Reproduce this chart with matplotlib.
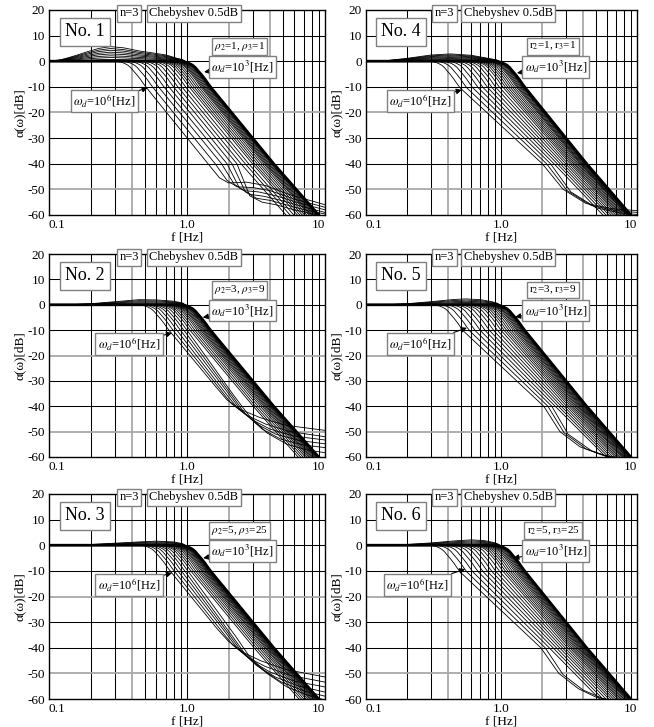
import matplotlib
matplotlib.use('Agg')
import matplotlib.pyplot as plt

plt.rcParams['font.family'] = ['Liberation Serif', 'DejaVu Serif']
plt.rcParams['mathtext.fontset'] = 'stix'
plt.rcParams['axes.unicode_minus'] = False

# knee shape of the w_d=10^3 curve (freq relative to knee, dB)
KNEE_REL = [0.85, 0.93, 1.0, 1.05, 1.1, 1.15, 1.2, 1.27, 1.35, 1.42, 1.5]
KNEE_DB = [0.0, -0.1, -0.5, -1.0, -1.6, -2.5, -3.7, -5.2, -7.0, -8.7, -10.4]

# ---- No. 1  rho2=1, rho3=1
knee_p1 = [0.34, 0.38, 0.42, 0.46, 0.50, 0.54, 0.58, 0.62, 0.66, 0.70, 0.73, 0.76,
           0.79, 0.82, 0.85, 0.87, 0.89, 0.91, 0.93, 0.95, 0.965, 0.978, 0.99, 1.0]
f40_p1 = [1.42, 1.60, 1.78, 1.95, 2.12, 2.30, 2.46, 2.64, 2.80, 2.98, 3.10, 3.23,
          3.36, 3.49, 3.61, 3.70, 3.78, 3.87, 3.95, 4.04, 4.10, 4.16, 4.21, 4.25]
f60_p1 = [3.06, 3.42, 3.78, 4.14, 4.50, 4.86, 5.22, 5.58, 5.94, 6.30, 6.57, 6.84,
          7.11, 7.38, 7.65, 7.83, 8.01, 8.19, 8.37, 8.55, 8.69, 8.80, 8.91, 9.0]
tails_p1 = [
    [(1.42, -40), (1.72, -45.5), (2.0, -47.5), (2.7, -47.2), (3.7, -48.5), (5.5, -52.0), (10, -56.0)],
    [(1.60, -40), (1.95, -46.5), (2.3, -49.0), (3.0, -49.3), (4.0, -50.5), (6.0, -53.8), (10, -57.0)],
    [(1.78, -40), (2.2, -48.0), (2.6, -50.5), (3.3, -51.0), (4.4, -52.5), (6.5, -55.3), (10, -58.0)],
    [(1.95, -40), (2.4, -49.5), (2.9, -52.0), (3.6, -52.7), (4.8, -54.3), (7.0, -56.8), (10, -59.0)],
    [(2.12, -40), (2.65, -51.0), (3.2, -53.5), (4.0, -54.3), (5.2, -56.0), (7.5, -58.3), (10, -59.6)],
    [(2.30, -40), (2.85, -52.5), (3.5, -55.0), (4.4, -56.0), (5.8, -57.8), (8.0, -59.5), (10, -60.5)],
]
hump_f_p1 = [0.1, 0.12, 0.135, 0.16, 0.19, 0.23, 0.28, 0.35, 0.45, 0.57, 0.71, 0.85, 0.93]
hump_db_p1 = [0.0, 0.5, 1.2, 2.4, 3.7, 5.0, 5.7, 5.2, 4.0, 3.2, 2.4, 1.1, 0.6]
hump_frac_p1 = [0.12, 0.25, 0.37, 0.5, 0.62, 0.75, 0.87, 1.0]

# ---- No. 2  rho2=3, rho3=9
knee_p2 = [0.50, 0.535, 0.57, 0.605, 0.64, 0.675, 0.71, 0.74, 0.77, 0.80, 0.825,
           0.85, 0.87, 0.89, 0.91, 0.93, 0.945, 0.96, 0.972, 0.983, 0.992, 1.0]
f40_p2 = [2.12, 2.27, 2.42, 2.57, 2.72, 2.87, 3.02, 3.14, 3.27, 3.40, 3.51,
          3.61, 3.70, 3.78, 3.87, 3.95, 4.02, 4.08, 4.13, 4.18, 4.22, 4.25]
f60_p2 = [4.50, 4.82, 5.13, 5.45, 5.76, 6.08, 6.39, 6.66, 6.93, 7.20, 7.43,
          7.65, 7.83, 8.01, 8.19, 8.37, 8.51, 8.64, 8.75, 8.85, 8.93, 9.0]
tails_p2 = [
    [(1.6, -32.0), (1.95, -37.5), (2.5, -41.5), (3.4, -44.5), (5.2, -47.5), (10, -49.5)],
    [(1.75, -33.5), (2.1, -39.0), (2.7, -43.5), (3.7, -47.0), (5.6, -50.0), (10, -52.0)],
    [(1.85, -34.0), (2.3, -40.5), (3.0, -45.5), (4.0, -49.0), (6.0, -51.8), (10, -53.3)],
    [(2.0, -35.0), (2.45, -41.5), (3.2, -47.0), (4.4, -51.0), (6.5, -53.5), (10, -54.8)],
    [(2.1, -35.5), (2.6, -42.5), (3.5, -49.0), (4.8, -53.0), (7.0, -55.3), (10, -56.3)],
    [(2.2, -36.0), (2.8, -43.5), (3.8, -50.5), (5.3, -55.0), (7.5, -57.3), (10, -58.3)],
]
hump_f_p2 = [0.1, 0.15, 0.2, 0.3, 0.45, 0.6, 0.8, 0.93]
hump_db_p2 = [0.0, 0.1, 0.4, 1.2, 2.0, 1.9, 1.4, 0.7]
hump_frac_p2 = [0.2, 0.4, 0.6, 0.8, 1.0]

# ---- No. 3  rho2=5, rho3=25
knee_p3 = [0.51, 0.545, 0.58, 0.615, 0.65, 0.685, 0.72, 0.75, 0.78, 0.81, 0.835,
           0.86, 0.88, 0.90, 0.92, 0.935, 0.95, 0.963, 0.975, 0.985, 0.993, 1.0]
f40_p3 = [2.17, 2.32, 2.47, 2.61, 2.76, 2.91, 3.06, 3.19, 3.32, 3.44, 3.55,
          3.66, 3.74, 3.83, 3.91, 3.97, 4.04, 4.09, 4.14, 4.19, 4.22, 4.25]
f60_p3 = [4.59, 4.91, 5.22, 5.54, 5.85, 6.17, 6.48, 6.75, 7.02, 7.29, 7.52,
          7.74, 7.92, 8.10, 8.28, 8.42, 8.55, 8.67, 8.78, 8.87, 8.94, 9.0]
tails_p3 = [
    [(1.65, -32.5), (2.0, -37.5), (2.6, -42.0), (3.4, -45.0), (5.2, -48.5), (10, -51.4)],
    [(1.75, -33.0), (2.15, -39.0), (2.8, -44.0), (3.7, -47.3), (5.6, -50.8), (10, -53.4)],
    [(1.9, -34.0), (2.3, -40.0), (3.0, -45.5), (4.0, -49.5), (6.0, -53.0), (10, -55.3)],
    [(2.0, -34.5), (2.45, -41.0), (3.2, -47.0), (4.4, -51.5), (6.5, -55.0), (10, -57.3)],
    [(2.1, -35.0), (2.6, -42.0), (3.5, -48.5), (4.8, -53.3), (7.0, -56.8), (10, -58.9)],
    [(2.25, -35.5), (2.8, -43.0), (3.8, -50.0), (5.3, -55.3), (7.5, -58.5), (10, -60.4)],
]
hump_f_p3 = [0.1, 0.15, 0.2, 0.3, 0.45, 0.6, 0.8, 0.93]
hump_db_p3 = [0.0, 0.05, 0.3, 0.8, 1.3, 1.6, 1.3, 0.6]
hump_frac_p3 = [0.2, 0.4, 0.6, 0.8, 1.0]

# ---- No. 4  r2=1, r3=1
knee_p4 = [0.33, 0.37, 0.41, 0.45, 0.49, 0.53, 0.57, 0.61, 0.65, 0.69, 0.72, 0.75,
           0.78, 0.81, 0.84, 0.87, 0.89, 0.91, 0.93, 0.95, 0.965, 0.978, 0.99, 1.0]
f40_p4 = [2.00, 2.15, 2.30, 2.44, 2.58, 2.71, 2.84, 2.97, 3.09, 3.21, 3.31, 3.41,
          3.50, 3.60, 3.69, 3.78, 3.85, 3.91, 3.98, 4.05, 4.10, 4.15, 4.21, 4.25]
f60_p4 = [4.6, 4.95, 5.3, 5.6, 5.9, 6.2, 6.45, 6.7, 6.95, 7.2, 7.4, 7.6,
          7.8, 8.0, 8.2, 8.4, 8.5, 8.6, 8.7, 8.8, 8.87, 8.93, 8.98, 9.0]
tails_p4 = [
    [(2.00, -40), (2.85, -50.0), (4.2, -55.5), (6.5, -57.5), (10, -58.3)],
    [(2.15, -40), (3.05, -50.5), (4.6, -56.3), (7.0, -58.3), (10, -59.0)],
    [(2.30, -40), (3.25, -51.0), (5.0, -57.2), (7.5, -59.2), (10, -59.8)],
]
hump_f_p4 = [0.1, 0.14, 0.2, 0.3, 0.42, 0.6, 0.8, 0.92]
hump_db_p4 = [0.0, 0.2, 1.1, 2.4, 2.85, 2.3, 1.1, 0.5]
hump_frac_p4 = [0.12, 0.25, 0.37, 0.5, 0.62, 0.75, 0.87, 1.0]

# ---- No. 5  r2=3, r3=9
knee_p5 = [0.35, 0.39, 0.43, 0.47, 0.51, 0.55, 0.59, 0.63, 0.67, 0.705, 0.735, 0.765,
           0.795, 0.825, 0.85, 0.875, 0.895, 0.915, 0.935, 0.952, 0.967, 0.98, 0.991, 1.0]
f40_p5 = [2.05, 2.2, 2.35, 2.49, 2.63, 2.76, 2.89, 3.02, 3.14, 3.25, 3.35, 3.45,
          3.54, 3.63, 3.71, 3.79, 3.86, 3.93, 4.0, 4.06, 4.12, 4.17, 4.22, 4.25]
f60_p5 = [5.0, 5.3, 5.6, 5.9, 6.15, 6.4, 6.65, 6.9, 7.1, 7.3, 7.5, 7.7,
          7.85, 8.0, 8.15, 8.3, 8.42, 8.54, 8.65, 8.75, 8.84, 8.91, 8.96, 9.0]
tails_p5 = [
    [(2.05, -40), (2.7, -50.0), (3.8, -56.0), (5.5, -59.2), (8.0, -60.5)],
    [(2.2, -40), (2.9, -50.5), (4.2, -56.8), (6.0, -59.8), (8.0, -61.0)],
    [(2.35, -40), (3.1, -51.0), (4.6, -57.5), (6.5, -60.3)],
]
hump_f_p5 = [0.1, 0.15, 0.2, 0.3, 0.45, 0.55, 0.7, 0.85, 0.93]
hump_db_p5 = [0.0, 0.1, 0.4, 1.2, 2.1, 2.3, 2.0, 1.2, 0.6]
hump_frac_p5 = [0.2, 0.4, 0.6, 0.8, 1.0]

# ---- No. 6  r2=5, r3=25
knee_p6 = [0.33, 0.37, 0.41, 0.45, 0.49, 0.53, 0.57, 0.61, 0.65, 0.69, 0.72, 0.75,
           0.78, 0.81, 0.84, 0.865, 0.888, 0.91, 0.93, 0.948, 0.964, 0.978, 0.99, 1.0]
f40_p6 = [1.95, 2.1, 2.25, 2.4, 2.54, 2.68, 2.81, 2.94, 3.07, 3.19, 3.29, 3.39,
          3.49, 3.58, 3.67, 3.75, 3.83, 3.9, 3.97, 4.04, 4.1, 4.16, 4.21, 4.25]
f60_p6 = [4.6, 4.95, 5.3, 5.6, 5.9, 6.2, 6.45, 6.7, 6.95, 7.2, 7.4, 7.6,
          7.8, 8.0, 8.2, 8.35, 8.48, 8.6, 8.7, 8.8, 8.87, 8.93, 8.98, 9.0]
tails_p6 = [
    [(1.95, -40), (2.65, -50.0), (3.7, -56.0), (5.0, -59.3), (7.0, -61.0)],
    [(2.1, -40), (2.85, -50.5), (4.0, -56.5), (5.6, -59.8), (7.5, -61.0)],
]
hump_f_p6 = [0.1, 0.15, 0.2, 0.3, 0.45, 0.6, 0.75, 0.87, 0.94]
hump_db_p6 = [0.0, 0.05, 0.3, 0.9, 1.7, 2.1, 1.8, 1.1, 0.5]
hump_frac_p6 = [0.2, 0.4, 0.6, 0.8, 1.0]

# labels and arrow targets
panel_no = ['No. 1', 'No. 2', 'No. 3', 'No. 4', 'No. 5', 'No. 6']
param_txt = [r'$\rho_2$=1, $\rho_3$=1', r'$\rho_2$=3, $\rho_3$=9', r'$\rho_2$=5, $\rho_3$=25',
             r'r$_2$=1, r$_3$=1', r'r$_2$=3, r$_3$=9', r'r$_2$=5, r$_3$=25']
arrow3 = [(1.33, -4.2), (1.3, -5.0), (1.31, -5.0), (1.3, -4.6), (1.26, -4.8), (1.22, -5.0)]
arrow6 = [(0.52, -10.4), (0.78, -11.1), (0.78, -10.8), (0.51, -11.2), (0.556, -9.1), (0.54, -9.3)]
box6_x = [0.2, 0.29, 0.29, 0.2, 0.2, 0.19]

panels = [
    (knee_p1, f40_p1, f60_p1, tails_p1, hump_f_p1, hump_db_p1, hump_frac_p1),
    (knee_p2, f40_p2, f60_p2, tails_p2, hump_f_p2, hump_db_p2, hump_frac_p2),
    (knee_p3, f40_p3, f60_p3, tails_p3, hump_f_p3, hump_db_p3, hump_frac_p3),
    (knee_p4, f40_p4, f60_p4, tails_p4, hump_f_p4, hump_db_p4, hump_frac_p4),
    (knee_p5, f40_p5, f60_p5, tails_p5, hump_f_p5, hump_db_p5, hump_frac_p5),
    (knee_p6, f40_p6, f60_p6, tails_p6, hump_f_p6, hump_db_p6, hump_frac_p6),
]

rects = [
    [0.0749, 0.7043, 0.422, 0.282], [0.0749, 0.3714, 0.422, 0.2792], [0.0749, 0.0385, 0.422, 0.282],
    [0.5596, 0.7043, 0.4144, 0.282], [0.5596, 0.3714, 0.4144, 0.2792], [0.5596, 0.0385, 0.4144, 0.282],
]

grid_x = [0.2, 0.3, 0.4, 0.5, 0.6, 0.7, 0.8, 0.9, 1.0, 2, 3, 4, 5, 6, 7, 8, 9]
gray_x = [0.4, 2, 4]
grid_y = [10, 0, -10, -20, -30, -40, -50]
gray_y = [-20, -50]

fig = plt.figure(figsize=(6.54, 7.27), dpi=100)
box = dict(boxstyle='square,pad=0.2', fc='white', ec='#808080', lw=1.0)

for k in range(6):
    knee, f40, f60, tails, hf, hdb, hfrac = panels[k]
    ax = fig.add_axes(rects[k])
    ax.set_xscale('log')
    ax.set_xlim(0.1, 10)
    ax.set_ylim(-60, 20)

    for g in grid_x:
        if g in gray_x:
            ax.axvline(g, color='#a8a8a8', lw=1.3, zorder=0)
        else:
            ax.axvline(g, color='black', lw=0.75, zorder=0)
    for g in grid_y:
        if g in gray_y:
            ax.axhline(g, color='#a8a8a8', lw=1.3, zorder=0)
        else:
            ax.axhline(g, color='black', lw=0.75, zorder=0)

    # family of curves, w_d from 10^6 (first) to 10^3 (last)
    for i, s in enumerate(knee):
        xs = [0.1] + [r * s for r in KNEE_REL]
        ys = [0.0] + KNEE_DB
        if i < len(tails):
            xs += [p[0] for p in tails[i]]
            ys += [p[1] for p in tails[i]]
        else:
            xs += [f40[i], f60[i]]
            ys += [-40, -60]
        lw = 2.0 if i == len(knee) - 1 else 0.6
        ax.plot(xs, ys, color='black', lw=lw, zorder=3)

    # passband lift of the curves near w_d=10^3
    for fr in hfrac:
        xs = [f for f in hf if f < 0.97]
        ys = [fr * d for f, d in zip(hf, hdb) if f < 0.97]
        xs += KNEE_REL[2:] + [f40[-1], f60[-1]]
        ys += KNEE_DB[2:] + [-40, -60]
        ax.plot(xs, ys, color='black', lw=0.6, zorder=3)

    for sp in ax.spines.values():
        sp.set_linewidth(1.0)
        sp.set_zorder(5)

    ax.set_yticks([20, 10, 0, -10, -20, -30, -40, -50, -60])
    ax.set_yticklabels(['20', '10', '0', '-10', '-20', '-30', '-40', '-50', '-60'])
    ax.set_xticks([0.1, 1, 10])
    ax.set_xticklabels(['0.1', '1.0', '10'])
    ax.xaxis.set_minor_locator(matplotlib.ticker.NullLocator())
    for lbl, ha in zip(ax.get_xticklabels(), ['left', 'center', 'right']):
        lbl.set_ha(ha)
    ax.tick_params(length=0, pad=3, labelsize=9.5)
    ax.set_xlabel('f [Hz]', fontsize=9.5, labelpad=0)
    ax.set_ylabel('α(ω)[dB]', fontsize=9.5, labelpad=1)

    ax.text(0.29, 0.983, 'n=3', transform=ax.transAxes, ha='center', va='center',
            fontsize=9, bbox=box, zorder=10, clip_on=False)
    ax.text(0.525, 0.983, 'Chebyshev 0.5dB', transform=ax.transAxes, ha='center', va='center',
            fontsize=9, bbox=box, zorder=10, clip_on=False)
    ax.text(0.13, 0.893, panel_no[k], transform=ax.transAxes, ha='center', va='center',
            fontsize=13, bbox=dict(boxstyle='square,pad=0.3', fc='white', ec='#808080', lw=1.0),
            zorder=10)
    ax.text(0.69, 0.823, param_txt[k], transform=ax.transAxes, ha='center', va='center',
            fontsize=8, bbox=box, zorder=10)
    arr = dict(arrowstyle='-|>', color='black', lw=0.8, mutation_scale=8, shrinkA=0, shrinkB=0)
    ax.annotate(r'$\omega_d$=10$^3$[Hz]', xy=arrow3[k], xycoords='data',
                xytext=(0.70, 0.722), textcoords='axes fraction', ha='center', va='center',
                fontsize=9, bbox=box, arrowprops=arr, zorder=10)
    ax.annotate(r'$\omega_d$=10$^6$[Hz]', xy=arrow6[k], xycoords='data',
                xytext=(box6_x[k], 0.556), textcoords='axes fraction', ha='center', va='center',
                fontsize=9, bbox=box, arrowprops=arr, zorder=10)

fig.savefig('out.png', dpi=100)
